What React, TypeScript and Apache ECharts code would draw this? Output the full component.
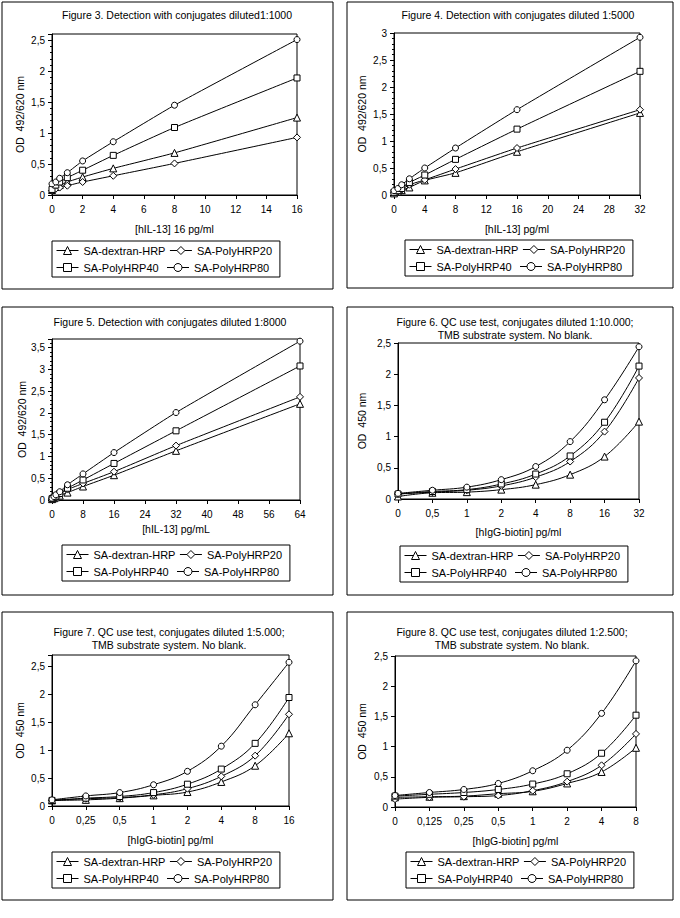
import React, { useEffect, useRef } from "react";
import * as echarts from "echarts";

const FONT = '"Liberation Sans", Arial, sans-serif';

const seriesNames = ["SA-dextran-HRP", "SA-PolyHRP20", "SA-PolyHRP40", "SA-PolyHRP80"];
const seriesSymbols = ["triangle", "diamond", "rect", "circle"];

const titles = [
  "Figure 3. Detection with conjugates diluted1:1000",
  "Figure 4. Detection with conjugates diluted 1:5000",
  "Figure 5. Detection with conjugates diluted 1:8000",
  "Figure 6. QC use test, conjugates diluted 1:10.000;\nTMB substrate system. No blank.",
  "Figure 7. QC use test, conjugates diluted 1:5.000;\nTMB substrate system. No blank.",
  "Figure 8. QC use test, conjugates diluted 1:2.500;\nTMB substrate system. No blank.",
];
const xNames = [
  "[hIL-13] 16 pg/ml",
  "[hIL-13] pg/ml",
  "[hIL-13] pg/mL",
  "[hIgG-biotin] pg/ml",
  "[hIgG-biotin] pg/ml",
  "[hIgG-biotin] pg/ml",
];
const yNames = ["OD  492/620 nm", "OD  492/620 nm", "OD  492/620 nm", "OD  450 nm", "OD  450 nm", "OD  450 nm"];

// Figure 3
const fig3X = [0, 0.25, 0.5, 1, 2, 4, 8, 16];
const fig3Dextran = [0.08, 0.13, 0.16, 0.21, 0.29, 0.43, 0.68, 1.25];
const fig3Poly20 = [0.07, 0.1, 0.12, 0.15, 0.21, 0.31, 0.51, 0.93];
const fig3Poly40 = [0.09, 0.16, 0.21, 0.28, 0.4, 0.64, 1.09, 1.89];
const fig3Poly80 = [0.18, 0.21, 0.27, 0.36, 0.55, 0.86, 1.45, 2.51];

// Figure 4
const fig4X = [0, 0.5, 1, 2, 4, 8, 16, 32];
const fig4Dextran = [0.03, 0.06, 0.09, 0.14, 0.27, 0.41, 0.8, 1.52];
const fig4Poly20 = [0.04, 0.06, 0.1, 0.19, 0.28, 0.48, 0.87, 1.58];
const fig4Poly40 = [0.05, 0.08, 0.12, 0.23, 0.37, 0.66, 1.22, 2.29];
const fig4Poly80 = [0.08, 0.12, 0.19, 0.3, 0.5, 0.87, 1.58, 2.92];

// Figure 5
const fig5X = [0, 0.5, 1, 2, 4, 8, 16, 32, 64];
const fig5Dextran = [0.02, 0.04, 0.06, 0.1, 0.17, 0.31, 0.57, 1.13, 2.21];
const fig5Poly20 = [0.02, 0.05, 0.08, 0.14, 0.24, 0.38, 0.65, 1.25, 2.37];
const fig5Poly40 = [0.03, 0.06, 0.09, 0.15, 0.27, 0.46, 0.84, 1.59, 3.08];
const fig5Poly80 = [0.04, 0.08, 0.12, 0.19, 0.35, 0.6, 1.09, 2.01, 3.65];

// Figure 6
const fig6Cats = ["0", "0,5", "1", "2", "4", "8", "16", "32"];
const fig6Dextran = [0.04, 0.1, 0.11, 0.15, 0.23, 0.39, 0.68, 1.24];
const fig6Poly20 = [0.08, 0.11, 0.14, 0.21, 0.35, 0.6, 1.08, 1.94];
const fig6Poly40 = [0.08, 0.12, 0.15, 0.24, 0.4, 0.69, 1.23, 2.13];
const fig6Poly80 = [0.09, 0.14, 0.19, 0.31, 0.52, 0.92, 1.59, 2.44];

// Figure 7
const fig7Cats = ["0", "0,25", "0,5", "1", "2", "4", "8", "16"];
const fig7Dextran = [0.1, 0.11, 0.14, 0.19, 0.25, 0.43, 0.72, 1.3];
const fig7Poly20 = [0.1, 0.13, 0.15, 0.2, 0.31, 0.53, 0.9, 1.64];
const fig7Poly40 = [0.1, 0.14, 0.17, 0.24, 0.39, 0.66, 1.12, 1.94];
const fig7Poly80 = [0.11, 0.18, 0.24, 0.38, 0.62, 1.07, 1.81, 2.57];

// Figure 8
const fig8Cats = ["0", "0,125", "0,25", "0,5", "1", "2", "4", "8"];
const fig8Dextran = [0.16, 0.17, 0.18, 0.22, 0.26, 0.39, 0.58, 0.98];
const fig8Poly20 = [0.13, 0.16, 0.17, 0.19, 0.27, 0.42, 0.69, 1.21];
const fig8Poly40 = [0.18, 0.21, 0.24, 0.29, 0.38, 0.55, 0.89, 1.52];
const fig8Poly80 = [0.19, 0.24, 0.29, 0.39, 0.6, 0.94, 1.55, 2.42];

const yMax = [2.6, 3, 3.7, 2.5, 2.7, 2.5];
const xMax = [16, 32, 64];
const xInterval = [2, 4, 8];

const panelsValueX = [fig3X, fig4X, fig5X];
const panelsCats = [fig6Cats, fig7Cats, fig8Cats];
const panelsY = [
  [fig3Dextran, fig3Poly20, fig3Poly40, fig3Poly80],
  [fig4Dextran, fig4Poly20, fig4Poly40, fig4Poly80],
  [fig5Dextran, fig5Poly20, fig5Poly40, fig5Poly80],
  [fig6Dextran, fig6Poly20, fig6Poly40, fig6Poly80],
  [fig7Dextran, fig7Poly20, fig7Poly40, fig7Poly80],
  [fig8Dextran, fig8Poly20, fig8Poly40, fig8Poly80],
];

// layout (positions only)
const grids = [
  { left: 52, top: 34, width: 245, height: 161 },
  { left: 394, top: 33, width: 246, height: 162 },
  { left: 52, top: 339, width: 248, height: 161 },
  { left: 398, top: 343, width: 241, height: 156 },
  { left: 52, top: 655, width: 237, height: 151 },
  { left: 395, top: 656, width: 241, height: 151 },
];
const boxes = [
  [2, 2, 331, 287],
  [347, 2, 326, 286],
  [2, 307, 331, 288],
  [347, 307, 326, 288],
  [2, 612, 331, 288],
  [347, 612, 326, 288],
];
const titlePos = [
  [177, 15],
  [518, 15],
  [170, 322],
  [515, 328],
  [169, 638],
  [512, 638],
];
const xNameGap = [28, 28, 23, 27, 28, 28];
const yNameGap = [27, 27, 25, 31, 27, 28];
const legendPos = [
  [52, 241],
  [405, 240],
  [62, 545],
  [400, 546],
  [52, 852],
  [406, 852],
];
const symbolSizes = [7, 7, 6, 6];

const yFmt = (v: number) => {
  const r = v / 0.5;
  if (Math.abs(r - Math.round(r)) > 1e-6) return "";
  return String(v).replace(".", ",");
};

export default function App() {
  const ref = useRef<HTMLDivElement>(null);
  useEffect(() => {
    if (!ref.current) return;
    const chart = echarts.init(ref.current, undefined, { renderer: "svg" });

    const axisLine = { show: true, lineStyle: { color: "#000", width: 1 } };
    const labelStyle = { color: "#000", fontSize: 10, fontFamily: FONT };
    const nameStyle = { color: "#000", fontSize: 10.5, fontFamily: FONT };

    const xAxis: any[] = [];
    const yAxis: any[] = [];
    const series: any[] = [];
    const legend: any[] = [];
    const graphic: any[] = [];

    for (let p = 0; p < 6; p++) {
      if (p < 3) {
        xAxis.push({
          type: "value",
          gridIndex: p,
          min: 0,
          max: xMax[p],
          interval: xInterval[p],
          axisLine,
          axisTick: { show: true, inside: false, length: 4, lineStyle: { color: "#000" } },
          axisLabel: { ...labelStyle, margin: 9 },
          splitLine: { show: false },
          name: xNames[p],
          nameLocation: "middle",
          nameGap: xNameGap[p],
          nameTextStyle: nameStyle,
        });
      } else {
        xAxis.push({
          type: "category",
          gridIndex: p,
          data: panelsCats[p - 3],
          boundaryGap: false,
          axisLine,
          axisTick: { show: true, length: 4, interval: 0, lineStyle: { color: "#000" } },
          axisLabel: { ...labelStyle, margin: 9, interval: 0 },
          splitLine: { show: false },
          name: xNames[p],
          nameLocation: "middle",
          nameGap: xNameGap[p],
          nameTextStyle: nameStyle,
        });
      }
      yAxis.push({
        type: "value",
        gridIndex: p,
        min: 0,
        max: yMax[p],
        interval: 0.5,
        axisLine,
        axisTick: { show: true, length: 4, lineStyle: { color: "#000" } },
        minorTick: { show: p < 3, splitNumber: 5, length: 2, lineStyle: { color: "#000" } },
        axisLabel: { ...labelStyle, margin: 7, formatter: yFmt },
        splitLine: { show: false },
        minorSplitLine: { show: false },
        name: yNames[p],
        nameLocation: "middle",
        nameGap: yNameGap[p],
        nameTextStyle: nameStyle,
      });

      for (let s = 0; s < 4; s++) {
        const ys = panelsY[p][s];
        const data = p < 3 ? ys.map((v, k) => [panelsValueX[p][k], v]) : ys;
        series.push({
          type: "line",
          name: seriesNames[s],
          xAxisIndex: p,
          yAxisIndex: p,
          data,
          smooth: p < 3 ? 0.15 : 0.4,
          symbol: seriesSymbols[s],
          symbolSize: symbolSizes[s],
          showAllSymbol: true,
          lineStyle: { color: "#000", width: 1 },
          itemStyle: { color: "#fff", borderColor: "#000", borderWidth: 1 },
          emphasis: { disabled: true },
          z: 3 + s,
        });
      }

      legend.push({
        left: legendPos[p][0],
        top: legendPos[p][1],
        width: 222,
        orient: "horizontal",
        data: seriesNames.map((n) => ({ name: n })),
        itemWidth: 22,
        itemHeight: 10,
        itemGap: 4,
        padding: [3, 4, 3, 4],
        borderColor: "#000",
        borderWidth: 1,
        selectedMode: false,
        itemStyle: { color: "#fff", borderColor: "#000", borderWidth: 1 },
        lineStyle: { color: "#000", width: 1 },
        textStyle: { color: "#000", fontSize: 11, fontFamily: FONT, width: 79, lineHeight: 13 },
      });

      const b = boxes[p];
      graphic.push({
        type: "rect",
        shape: { x: b[0], y: b[1], width: b[2], height: b[3] },
        style: { fill: "none", stroke: "#000", lineWidth: 1 },
        silent: true,
      });
      graphic.push({
        type: "text",
        x: titlePos[p][0],
        y: titlePos[p][1],
        style: {
          text: titles[p],
          fill: "#000",
          font: `10.5px ${FONT}`,
          textAlign: "center",
          textVerticalAlign: "middle",
          lineHeight: 13,
        },
        silent: true,
      });
    }

    chart.setOption({
      animation: false,
      backgroundColor: "#fff",
      grid: grids.map((g) => ({
        ...g,
        show: true,
        borderColor: "#000",
        borderWidth: 1,
        backgroundColor: "transparent",
        containLabel: false,
      })),
      xAxis,
      yAxis,
      series,
      legend,
      graphic,
    });

    return () => chart.dispose();
  }, []);

  return (
    <div
      ref={ref}
      style={{ position: "fixed", left: 0, top: 0, width: 680, height: 918, background: "#fff" }}
    />
  );
}
